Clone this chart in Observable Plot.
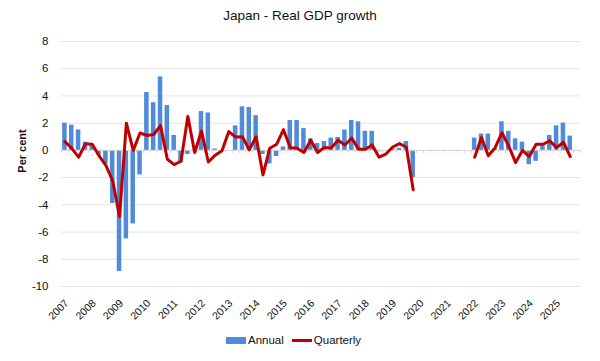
<!DOCTYPE html>
<html><head><meta charset="utf-8">
<script src="https://cdn.jsdelivr.net/npm/d3@7"></script>
<script src="https://cdn.jsdelivr.net/npm/@observablehq/plot@0.6"></script>
<style>
body{margin:0;background:#fff;font-family:"Liberation Sans",Arial,sans-serif;}
#wrap{position:relative;width:600px;height:361px;overflow:hidden;background:#fff}
#wrap svg{position:absolute;left:0;top:0}
.title{position:absolute;top:8px;left:0;width:600px;text-align:center;font-size:13.5px;color:#111}
.ylab{position:absolute;left:22px;top:151px;transform:translate(-50%,-50%) rotate(-90deg);font-size:11px;font-weight:bold;white-space:nowrap;color:#111}
.legend{position:absolute;top:334px;left:226px;display:flex;align-items:center;font-size:11.5px;color:#111}
.sw{display:inline-block;width:20px;margin-right:2px}
</style></head>
<body>
<div id="wrap">
  <div class="title">Japan - Real GDP growth</div>
  <div class="ylab">Per cent</div>
  <div class="legend">
    <span class="sw" style="height:7px;background:#4f8bd8"></span><span>Annual</span>
    <span class="sw" style="height:3px;background:#c00000;margin-left:8px"></span><span>Quarterly</span>
  </div>
</div>
<script>
// Quarters 2007 Q1 .. 2025 Q3 (2020-2021 not shown)
const yearLabels = ["2007","2008","2009","2010","2011","2012","2013","2014","2015","2016","2017","2018","2019","2020","2021","2022","2023","2024","2025"];
const yTicks = [-10,-8,-6,-4,-2,0,2,4,6,8];
const annual = [
  2.0, 1.85, 1.5, 0.6,
  0.4, -0.35, -1.0, -3.9,
  -8.9, -6.5, -5.4, -1.8,
  4.25, 3.5, 5.4, 3.3,
  1.1, -0.9, -0.3, -0.1,
  2.85, 2.75, 0.1, 0.0,
  0.0, 1.8, 3.2, 3.15,
  2.55, -0.3, -1.0, -0.45,
  0.25, 2.2, 2.2, 1.6,
  0.85, 0.5, 0.65, 0.9,
  0.95, 1.5, 2.2, 2.1,
  1.4, 1.4, -0.1, 0.0,
  0.1, 0.15, 0.65, -2.0,
  null, null, null, null,
  null, null, null, null,
  0.9, 1.2, 1.2, 0.1,
  2.1, 1.4, 0.85, 0.6,
  -1.05, -0.8, 0.35, 1.1,
  1.8, 2.0, 1.05
];
const quarterly = [
  0.65, 0.15, -0.5, 0.48,
  0.45, -0.4, -1.1, -2.25,
  -4.85, 2.0, 0.0, 1.28,
  1.1, 1.17, 1.82, -0.65,
  -1.05, -0.8, 2.5, -0.15,
  1.42, -0.85, -0.35, -0.03,
  1.38, 0.98, 1.0, 0.04,
  1.0, -1.8, 0.16, 0.45,
  1.52, 0.2, 0.16, -0.15,
  0.75, -0.15, 0.22, 0.17,
  0.75, 0.4, 0.9, 0.09,
  0.09, 0.4, -0.5, -0.27,
  0.25, 0.5, 0.23, -2.9,
  null, null, null, null,
  null, null, null, null,
  -0.5, 0.95, -0.4, 0.2,
  1.3, 0.3, -0.9, 0.0,
  -0.45, 0.45, 0.45, 0.7,
  0.2, 0.6, -0.45
];
const nCats = 76; // 2007 Q1 .. 2025 Q4 category slots
const data = annual.map((a, i) => ({i, annual: a, quarterly: quarterly[i]}));
const catEdges = d3.range(nCats + 1);

const chart = Plot.plot({
  width: 600,
  height: 361,
  marginTop: 41,
  marginBottom: 75,
  marginLeft: 61,
  marginRight: 20,
  style: {fontFamily: '"Liberation Sans", Arial, sans-serif', fontSize: "11.5px", color: "#111", background: "transparent"},
  x: {domain: [0, nCats], axis: null},
  y: {domain: [-10, 8], ticks: yTicks, tickSize: 0, tickPadding: 13, label: null, tickFormat: d => String(d)},
  marks: [
    Plot.ruleY(yTicks.filter(v => v !== 0), {stroke: "#e4e4e4", strokeWidth: 1}),
    Plot.rectY(data.filter(d => d.annual != null), {x1: d => d.i + 0.17, x2: d => d.i + 0.83, y: "annual", fill: "#4f8bd8"}),
    Plot.ruleY([0], {stroke: "#d6d6d6", strokeWidth: 1}),
    Plot.ruleX(catEdges, {x: d => d, y1: 0, y2: -0.22, stroke: "#d6d6d6", strokeWidth: 1}),
    Plot.lineY(data, {x: d => d.i + 0.5, y: "quarterly", stroke: "#c00000", strokeWidth: 3, strokeLinejoin: "round", strokeLinecap: "round"}),
    Plot.text(yearLabels, {x: (d, i) => i * 4 + 0.5, frameAnchor: "bottom", rotate: -45, textAnchor: "end", lineAnchor: "top", dy: 12, dx: -1, fontSize: 10.5, fill: "#111"})
  ]
});
document.getElementById("wrap").prepend(chart);
</script>
</body></html>
